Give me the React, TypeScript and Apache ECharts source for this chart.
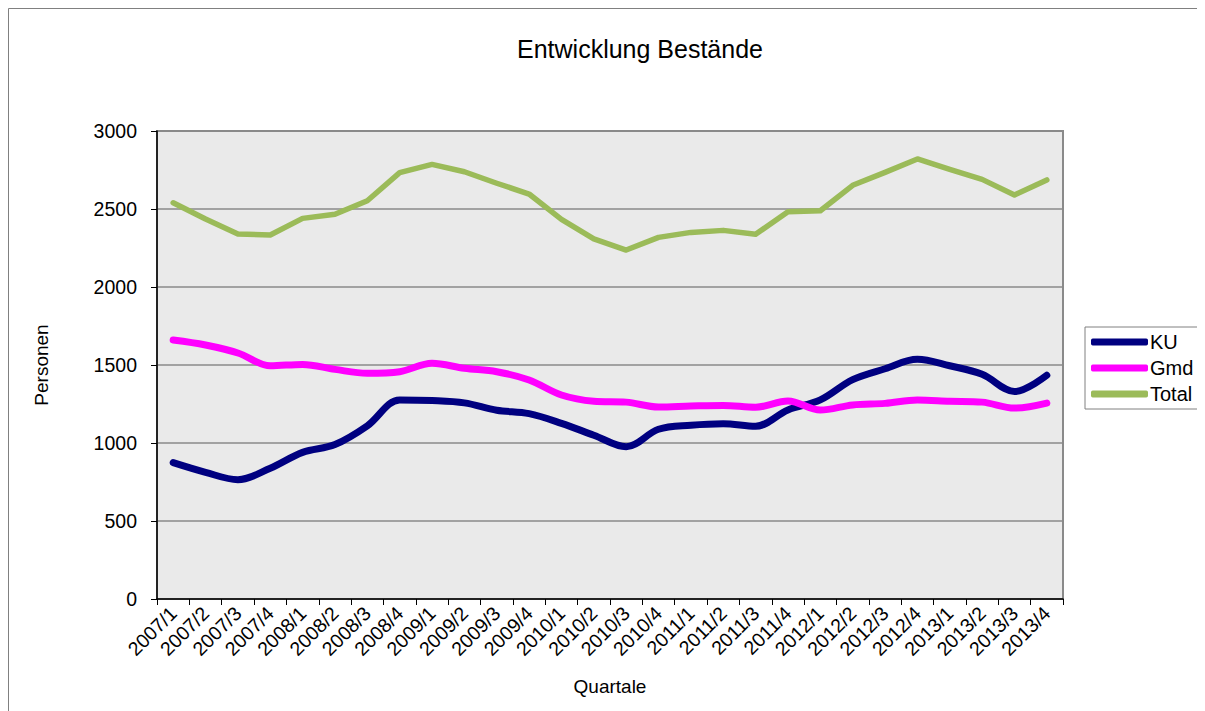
import React, { useEffect, useRef } from "react";
import * as echarts from "echarts";

const categories = [
  "2007/1", "2007/2", "2007/3", "2007/4",
  "2008/1", "2008/2", "2008/3", "2008/4",
  "2009/1", "2009/2", "2009/3", "2009/4",
  "2010/1", "2010/2", "2010/3", "2010/4",
  "2011/1", "2011/2", "2011/3", "2011/4",
  "2012/1", "2012/2", "2012/3", "2012/4",
  "2013/1", "2013/2", "2013/3", "2013/4",
];

const kuValues = [
  874, 812, 765, 838, 940, 990, 1110, 1276, 1272, 1257, 1210, 1188, 1126, 1050,
  976, 1088, 1114, 1124, 1107, 1212, 1276, 1406, 1476, 1537, 1495, 1440, 1330, 1434,
];

const gmdValues = [
  1660, 1628, 1577, 1495, 1504, 1472, 1447, 1457, 1511, 1479, 1457, 1404, 1308, 1268,
  1262, 1231, 1237, 1241, 1229, 1269, 1211, 1244, 1254, 1276, 1268, 1262, 1224, 1256,
];

const totalValues = [
  2540, 2436, 2340, 2333, 2440, 2466, 2553, 2733, 2786, 2739, 2665, 2596, 2434, 2308,
  2237, 2318, 2350, 2363, 2338, 2483, 2489, 2652, 2735, 2821, 2754, 2690, 2590, 2686,
];

const yTicks = { min: 0, max: 3000, interval: 500 };

const FONT = "'Liberation Sans', Arial, sans-serif";

export default function App() {
  const ref = useRef<HTMLDivElement>(null);

  useEffect(() => {
    if (!ref.current) return;
    const chart = echarts.init(ref.current, null, { renderer: "svg" });
    chart.setOption({
      animation: false,
      backgroundColor: "#ffffff",
      textStyle: { fontFamily: FONT, color: "#000" },
      title: {
        text: "Entwicklung Bestände",
        left: 504,
        top: 23,
        textStyle: { fontFamily: FONT, fontSize: 25, fontWeight: "normal", color: "#000" },
      },
      graphic: [
        {
          type: "rect",
          shape: { x: 0.5, y: 0.5, width: 1195, height: 720 },
          style: { fill: "none", stroke: "#808080", lineWidth: 1 },
          silent: true,
        },
      ],
      legend: {
        orient: "vertical",
        left: 1077,
        top: 319,
        padding: [5, 8, 5, 6],
        itemWidth: 57,
        itemHeight: 7,
        itemGap: 6,
        icon: "roundRect",
        backgroundColor: "#fff",
        borderColor: "#808080",
        borderWidth: 1,
        borderRadius: 0,
        textStyle: { fontFamily: FONT, fontSize: 20, color: "#000", padding: [0, 0, 0, -3] },
        data: ["KU", "Gmd", "Total"],
      },
      grid: {
        left: 149,
        top: 123,
        right: 142,
        bottom: 112,
        show: true,
        backgroundColor: "#EAEAEA",
        borderColor: "#8a8a8a",
        borderWidth: 2,
      },
      xAxis: {
        type: "category",
        data: categories,
        boundaryGap: true,
        name: "Quartale",
        nameLocation: "middle",
        nameGap: 78,
        nameTextStyle: { fontFamily: FONT, fontSize: 19, color: "#000" },
        axisLine: { show: true, lineStyle: { color: "#000", width: 1.5 } },
        axisTick: { show: true, alignWithLabel: false, interval: 0, length: 6, lineStyle: { color: "#000" } },
        axisLabel: {
          interval: 0,
          rotate: 45,
          margin: 11,
          fontFamily: FONT,
          fontSize: 19.5,
          color: "#000",
        },
        splitLine: { show: false },
      },
      yAxis: {
        type: "value",
        min: yTicks.min,
        max: yTicks.max,
        interval: yTicks.interval,
        name: "Personen",
        nameLocation: "middle",
        nameGap: 106,
        nameRotate: 90,
        nameTextStyle: { fontFamily: FONT, fontSize: 19, color: "#000" },
        axisLine: { show: true, lineStyle: { color: "#000", width: 1.5 } },
        axisTick: { show: true, length: 6, lineStyle: { color: "#000" } },
        axisLabel: {
          margin: 20,
          fontFamily: FONT,
          fontSize: 19.5,
          color: "#000",
          formatter: (v: number) => String(v),
        },
        splitLine: { show: true, lineStyle: { color: "#8a8a8a", width: 1.5 } },
      },
      series: [
        {
          name: "KU",
          type: "line",
          data: kuValues,
          smooth: 0.35,
          showSymbol: false,
          symbol: "none",
          lineStyle: { color: "#000080", width: 7, cap: "round", join: "round" },
          itemStyle: { color: "#000080" },
          z: 3,
        },
        {
          name: "Gmd",
          type: "line",
          data: gmdValues,
          smooth: 0.35,
          showSymbol: false,
          symbol: "none",
          lineStyle: { color: "#FF00FF", width: 7, cap: "round", join: "round" },
          itemStyle: { color: "#FF00FF" },
          z: 4,
        },
        {
          name: "Total",
          type: "line",
          data: totalValues,
          smooth: false,
          showSymbol: false,
          symbol: "none",
          lineStyle: { color: "#9BBB59", width: 5.5, cap: "round", join: "round" },
          itemStyle: { color: "#9BBB59" },
          z: 2,
        },
      ],
    });
    return () => chart.dispose();
  }, []);

  return <div ref={ref} style={{ width: 1197, height: 703 }} />;
}
